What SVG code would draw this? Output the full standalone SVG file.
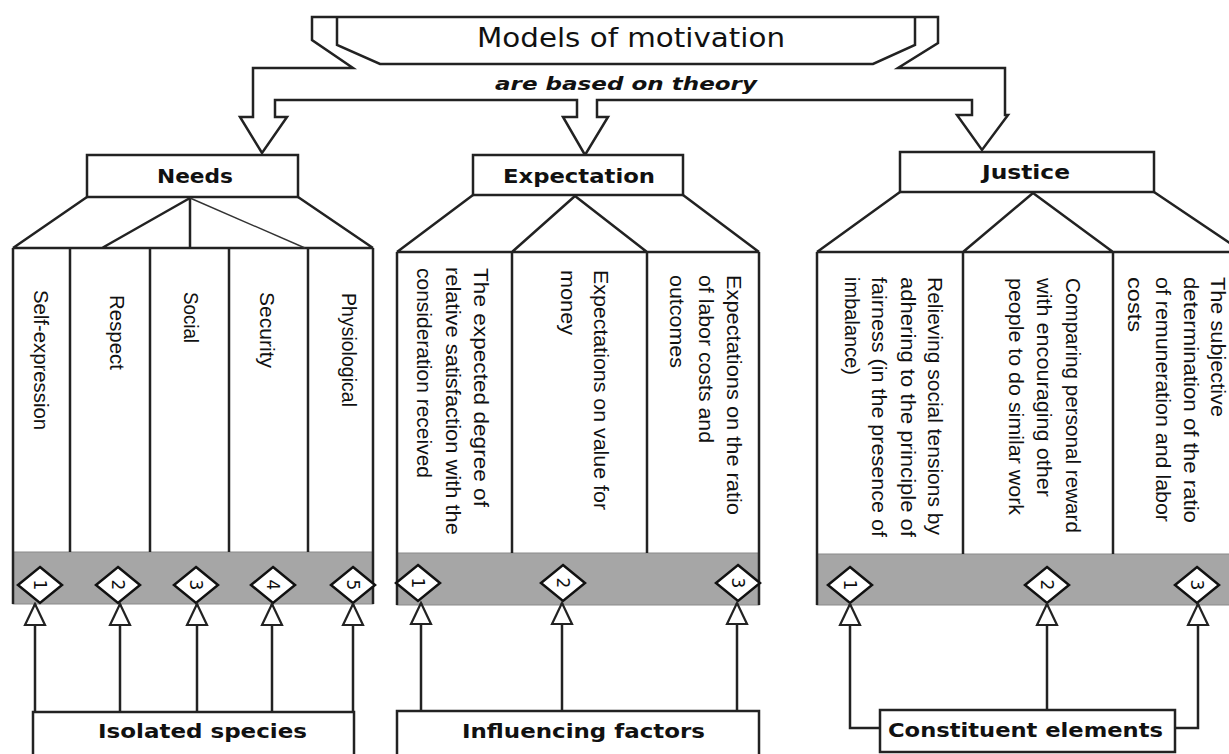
<svg xmlns="http://www.w3.org/2000/svg" xmlns:xlink="http://www.w3.org/1999/xlink" width="1229" height="754" viewBox="0 0 1229 754">
<style>
.ln{fill:none;stroke:#222;stroke-width:2.5;stroke-linejoin:miter}
.thin{fill:none;stroke:#333;stroke-width:1.4}
.box{fill:#fff;stroke:#222;stroke-width:2.5}
.band{fill:#a6a6a6;stroke:#8a8a8a;stroke-width:1}
.dia{fill:#fff;stroke:#111;stroke-width:2.5}
.lbl{font-family:"DejaVu Sans",Verdana,sans-serif;font-weight:bold;font-size:19px;fill:#111}
.col{font-family:"Liberation Sans",Arial,sans-serif;font-size:21px;fill:#111}
.num{font-family:"DejaVu Sans",Verdana,sans-serif;font-size:17px;fill:#111}
.title{font-family:"DejaVu Sans",Verdana,sans-serif;font-size:26px;fill:#111}
.sub{font-family:"DejaVu Sans",Verdana,sans-serif;font-size:17px;font-weight:bold;font-style:italic;fill:#111}
</style>
<defs>
<path id="dia" d="M0,-18 L22,0 L0,18 L-22,0 Z"/>
<marker id="ah" markerUnits="userSpaceOnUse" viewBox="-2 -12 25 24" refX="21" refY="0" markerWidth="25" markerHeight="24" orient="auto">
<path d="M0,-10 L21,0 L0,10 Z" fill="#fff" stroke="#222" stroke-width="2.2"/>
</marker>
</defs>
<rect width="1229" height="754" fill="#fff"/>

<g id="models">
<path class="box" d="M312,17 L938,17 L938,43 L898,68 L1005,68 L1005,115 L1008,115 L982,150 L957,115 L972,115 L972,100 L597,100 L597,117 L608,117 L585,155 L563,117 L577,117 L577,100 L275,100 L275,117 L287,117 L262,153 L240,117 L253,117 L253,68 L353,68 L312,40 Z"/>
<path class="ln" d="M337,17 L337,45 L380,64 L873,64 L915,45 L915,17"/>
<text class="title" x="477" y="47" textLength="308" lengthAdjust="spacingAndGlyphs">Models of motivation</text>
<text class="sub" x="495" y="90" textLength="262" lengthAdjust="spacingAndGlyphs">are based on theory</text>
</g>

<g id="needs">
<rect class="box" x="87" y="155" width="211" height="42"/>
<text class="lbl" x="157" y="183" textLength="76" lengthAdjust="spacingAndGlyphs">Needs</text>
</g>
<g id="needs-types">
<rect class="band" x="13" y="552" width="360" height="52"/>
<path class="ln" d="M87,197 L13,248 M298,197 L373,248 M190,198 L102,248 M190,198 L190,248 M13,248 H373 M13,248 V604 M373,248 V604 M70,248 V552 M150,248 V552 M229,248 V552 M308,248 V552"/>
<path class="thin" d="M190,198 L305,248"/>
<text class="col" transform="translate(34,290) rotate(90)" textLength="140" lengthAdjust="spacingAndGlyphs">Self-expression</text>
<text class="col" transform="translate(110,295) rotate(90)" textLength="75" lengthAdjust="spacingAndGlyphs">Respect</text>
<text class="col" transform="translate(184,292) rotate(90)" textLength="51" lengthAdjust="spacingAndGlyphs">Social</text>
<text class="col" transform="translate(260,292) rotate(90)" textLength="76" lengthAdjust="spacingAndGlyphs">Security</text>
<text class="col" transform="translate(342,293) rotate(90)" textLength="114" lengthAdjust="spacingAndGlyphs">Physiological</text>
<use xlink:href="#dia" class="dia" x="40" y="585"/>
<use xlink:href="#dia" class="dia" x="118" y="585"/>
<use xlink:href="#dia" class="dia" x="196" y="585"/>
<use xlink:href="#dia" class="dia" x="273" y="585"/>
<use xlink:href="#dia" class="dia" x="353" y="585"/>
<text class="num" transform="translate(40,585) rotate(90)" text-anchor="middle" dy="6">1</text>
<text class="num" transform="translate(118,585) rotate(90)" text-anchor="middle" dy="6">2</text>
<text class="num" transform="translate(196,585) rotate(90)" text-anchor="middle" dy="6">3</text>
<text class="num" transform="translate(273,585) rotate(90)" text-anchor="middle" dy="6">4</text>
<text class="num" transform="translate(353,585) rotate(90)" text-anchor="middle" dy="6">5</text>
</g>

<g id="expectation">
<rect class="box" x="473" y="155" width="210" height="40"/>
<text class="lbl" x="503" y="183" textLength="152" lengthAdjust="spacingAndGlyphs">Expectation</text>
</g>
<g id="expectation-types">
<rect class="band" x="397" y="553" width="362" height="52"/>
<path class="ln" d="M473,195 L397,252 M683,195 L759,252 M575,196 L512,252 M575,196 L647,252 M397,252 H759 M397,252 V605 M759,252 V605 M512,252 V553 M647,252 V553"/>
<text class="col" transform="translate(474,268) rotate(90)" textLength="239" lengthAdjust="spacingAndGlyphs">The expected degree of</text>
<text class="col" transform="translate(446,267) rotate(90)" textLength="268" lengthAdjust="spacingAndGlyphs">relative satisfaction with the</text>
<text class="col" transform="translate(417,268) rotate(90)" textLength="210" lengthAdjust="spacingAndGlyphs">consideration received</text>
<text class="col" transform="translate(594,270) rotate(90)" textLength="240" lengthAdjust="spacingAndGlyphs">Expectations on value for</text>
<text class="col" transform="translate(561,270) rotate(90)" textLength="65" lengthAdjust="spacingAndGlyphs">money</text>
<text class="col" transform="translate(727,275) rotate(90)" textLength="240" lengthAdjust="spacingAndGlyphs">Expectations on the ratio</text>
<text class="col" transform="translate(699,275) rotate(90)" textLength="168" lengthAdjust="spacingAndGlyphs">of labor costs and</text>
<text class="col" transform="translate(670,275) rotate(90)" textLength="93" lengthAdjust="spacingAndGlyphs">outcomes</text>
<use xlink:href="#dia" class="dia" x="418" y="583"/>
<use xlink:href="#dia" class="dia" x="563" y="583"/>
<use xlink:href="#dia" class="dia" x="738" y="583"/>
<text class="num" transform="translate(418,583) rotate(90)" text-anchor="middle" dy="6">1</text>
<text class="num" transform="translate(563,583) rotate(90)" text-anchor="middle" dy="6">2</text>
<text class="num" transform="translate(738,583) rotate(90)" text-anchor="middle" dy="6">3</text>
</g>

<g id="justice">
<rect class="box" x="900" y="152" width="254" height="40"/>
<text class="lbl" x="982" y="179" textLength="88" lengthAdjust="spacingAndGlyphs">Justice</text>
</g>
<g id="justice-types">
<rect class="band" x="817" y="554" width="420" height="51"/>
<path class="ln" d="M900,192 L817,252 M1154,192 L1243,252 M1033,193 L963,252 M1033,193 L1113,252 M817,252 H1243 M817,252 V605 M963,252 V554 M1113,252 V554"/>
<text class="col" transform="translate(928,277) rotate(90)" textLength="258" lengthAdjust="spacingAndGlyphs">Relieving social tensions by</text>
<text class="col" transform="translate(901,277) rotate(90)" textLength="260" lengthAdjust="spacingAndGlyphs">adhering to the principle of</text>
<text class="col" transform="translate(872,277) rotate(90)" textLength="260" lengthAdjust="spacingAndGlyphs">fairness (in the presence of</text>
<text class="col" transform="translate(845,277) rotate(90)" textLength="98" lengthAdjust="spacingAndGlyphs">imbalance)</text>
<text class="col" transform="translate(1066,278) rotate(90)" textLength="255" lengthAdjust="spacingAndGlyphs">Comparing personal reward</text>
<text class="col" transform="translate(1037,278) rotate(90)" textLength="219" lengthAdjust="spacingAndGlyphs">with encouraging other</text>
<text class="col" transform="translate(1009,278) rotate(90)" textLength="237" lengthAdjust="spacingAndGlyphs">people to do similar work</text>
<text class="col" transform="translate(1211,277) rotate(90)" textLength="140" lengthAdjust="spacingAndGlyphs">The subjective</text>
<text class="col" transform="translate(1184,277) rotate(90)" textLength="246" lengthAdjust="spacingAndGlyphs">determination of the ratio</text>
<text class="col" transform="translate(1156,277) rotate(90)" textLength="245" lengthAdjust="spacingAndGlyphs">of remuneration and labor</text>
<text class="col" transform="translate(1128,277) rotate(90)" textLength="55" lengthAdjust="spacingAndGlyphs">costs</text>
<use xlink:href="#dia" class="dia" x="850" y="585"/>
<use xlink:href="#dia" class="dia" x="1047" y="585"/>
<use xlink:href="#dia" class="dia" x="1197" y="585"/>
<text class="num" transform="translate(850,585) rotate(90)" text-anchor="middle" dy="6">1</text>
<text class="num" transform="translate(1047,585) rotate(90)" text-anchor="middle" dy="6">2</text>
<text class="num" transform="translate(1197,585) rotate(90)" text-anchor="middle" dy="6">3</text>
</g>

<g id="isolated-species">
<rect class="box" x="33" y="712" width="321" height="50"/>
<text class="lbl" x="98" y="738" textLength="209" lengthAdjust="spacingAndGlyphs">Isolated species</text>
</g>
<g id="influencing-factors">
<rect class="box" x="397" y="711" width="362" height="50"/>
<text class="lbl" x="462" y="738" textLength="243" lengthAdjust="spacingAndGlyphs">Influencing factors</text>
</g>
<g id="constituent-elements">
<rect class="box" x="880" y="710" width="295" height="42"/>
<text class="lbl" x="888" y="737" textLength="275" lengthAdjust="spacingAndGlyphs">Constituent elements</text>
</g>

<g id="connectors">
<path class="ln" marker-end="url(#ah)" d="M35,712 V604"/>
<path class="ln" marker-end="url(#ah)" d="M120,712 V604"/>
<path class="ln" marker-end="url(#ah)" d="M197,712 V604"/>
<path class="ln" marker-end="url(#ah)" d="M272,712 V604"/>
<path class="ln" marker-end="url(#ah)" d="M353,712 V604"/>
<path class="ln" marker-end="url(#ah)" d="M421,711 V603"/>
<path class="ln" marker-end="url(#ah)" d="M562,711 V603"/>
<path class="ln" marker-end="url(#ah)" d="M737,711 V603"/>
<path class="ln" marker-end="url(#ah)" d="M880,728 H850 V604"/>
<path class="ln" marker-end="url(#ah)" d="M1047,710 V604"/>
<path class="ln" marker-end="url(#ah)" d="M1175,728 H1198 V604"/>
</g>
</svg>
